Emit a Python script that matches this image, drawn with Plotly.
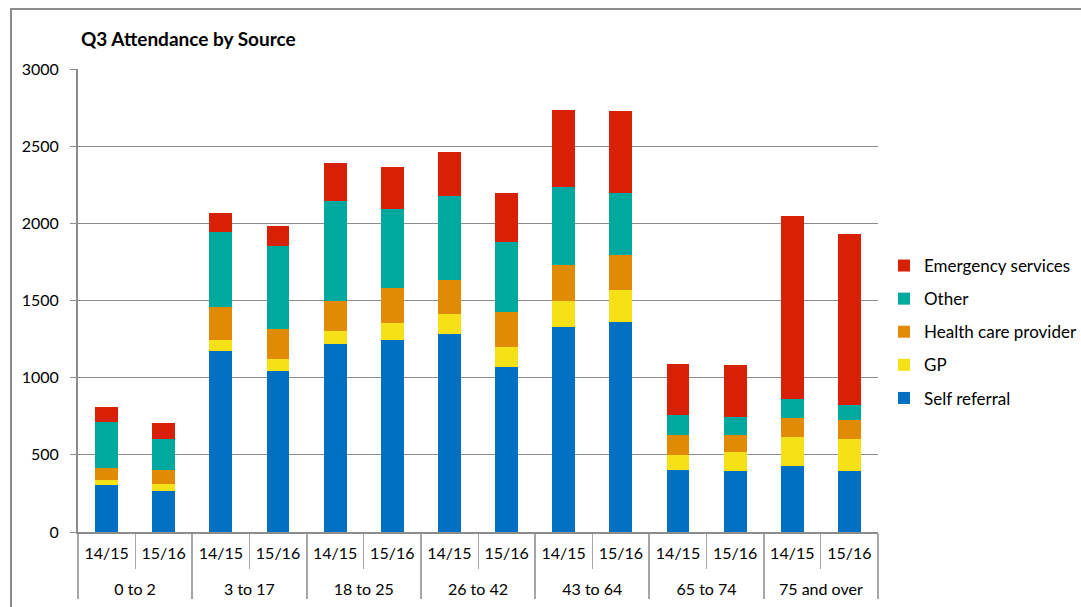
import plotly.graph_objects as go

groups = ["0 to 2", "3 to 17", "18 to 25", "26 to 42", "43 to 64", "65 to 74", "75 and over"]
years = ["14/15", "15/16"]

self_referral = [306, 266, 1176, 1043, 1215, 1241, 1284, 1071, 1330, 1358, 399, 397, 425, 393]
gp = [31, 45, 69, 79, 89, 113, 130, 129, 164, 213, 102, 123, 188, 207]
health_care_provider = [80, 93, 212, 193, 190, 226, 218, 225, 237, 225, 127, 108, 123, 123]
other = [297, 198, 488, 535, 650, 516, 544, 455, 506, 400, 130, 119, 127, 102]
emergency = [98, 104, 125, 132, 248, 270, 285, 316, 496, 531, 330, 337, 1186, 1107]

series_names = ["Self referral", "GP", "Health care provider", "Other", "Emergency services"]
series_values = [self_referral, gp, health_care_provider, other, emergency]
series_colors = ["#0070C2", "#F6E116", "#E18B05", "#00A99E", "#D82104"]

# multicategory x: group level and year level (year label padded with a blank
# second line so that the group row sits lower, as in the reference)
x_groups = [g for g in groups for _ in years]
x_years = [y + "<br>\u00a0" for _ in groups for y in years]

FONT = "Lato, 'Open Sans', sans-serif"
W, H = 1081, 607
ML, MR, MT, MB = 78, 203, 69, 75

fig = go.Figure()
n = len(series_names)
for i, (name, vals, col) in enumerate(zip(series_names, series_values, series_colors)):
    fig.add_trace(go.Bar(
        x=[x_groups, x_years], y=vals, name=name, legendgroup=name,
        legendrank=n - i,
        marker=dict(color=col, line=dict(width=0)),
    ))

pw = W - ML - MR
ph = H - MT - MB
def px(xp):
    return (xp - ML) / pw
def py(yp):
    return (H - MB - yp) / ph

fig.update_layout(
    width=W, height=H,
    margin=dict(l=ML, r=MR, t=MT, b=MB, pad=0, autoexpand=False),
    barmode="stack", bargap=0.6,
    plot_bgcolor="white", paper_bgcolor="white",
    font=dict(family=FONT, size=16, color="#000000"),
    title=dict(text="<b>Q3 Attendance by Source</b>", x=81 / W, xanchor="left",
               xref="container", y=1 - 39 / H, yanchor="middle", yref="container",
               font=dict(family=FONT, size=19, color="#000000")),
    legend=dict(x=px(884), xanchor="left", y=py(248), yanchor="top",
                traceorder="grouped", tracegroupgap=8,
                font=dict(family=FONT, size=17, color="#000000"),
                itemwidth=30, bgcolor="rgba(0,0,0,0)"),
    xaxis=dict(type="multicategory", showline=True, linecolor="#8c8c8c", linewidth=2,
               ticks="outside", tickson="boundaries", ticklen=35, tickcolor="#a6a6a6",
               tickwidth=1, showdividers=True, dividercolor="#a6a6a6", dividerwidth=2,
               ticklabelstandoff=6,
               tickfont=dict(family=FONT, size=16, color="#000000"), showgrid=False),
    yaxis=dict(range=[0, 3000], dtick=500, showgrid=True, gridcolor="#8c8c8c", gridwidth=1,
               showline=True, linecolor="#8c8c8c", linewidth=2, ticks="outside", ticklen=6,
               tickcolor="#8c8c8c", ticklabelstandoff=8, zeroline=False,
               tickfont=dict(family=FONT, size=16, color="#000000")),
    showlegend=True,
)

# outer chart frame (top and left edges visible)
fig.add_shape(type="path", xref="paper", yref="paper",
              path=f"M {px(11)} {py(620)} L {px(11)} {py(9)} L {px(1100)} {py(9)}",
              line=dict(color="#8c8c8c", width=2))

fig.write_html("out.html")
